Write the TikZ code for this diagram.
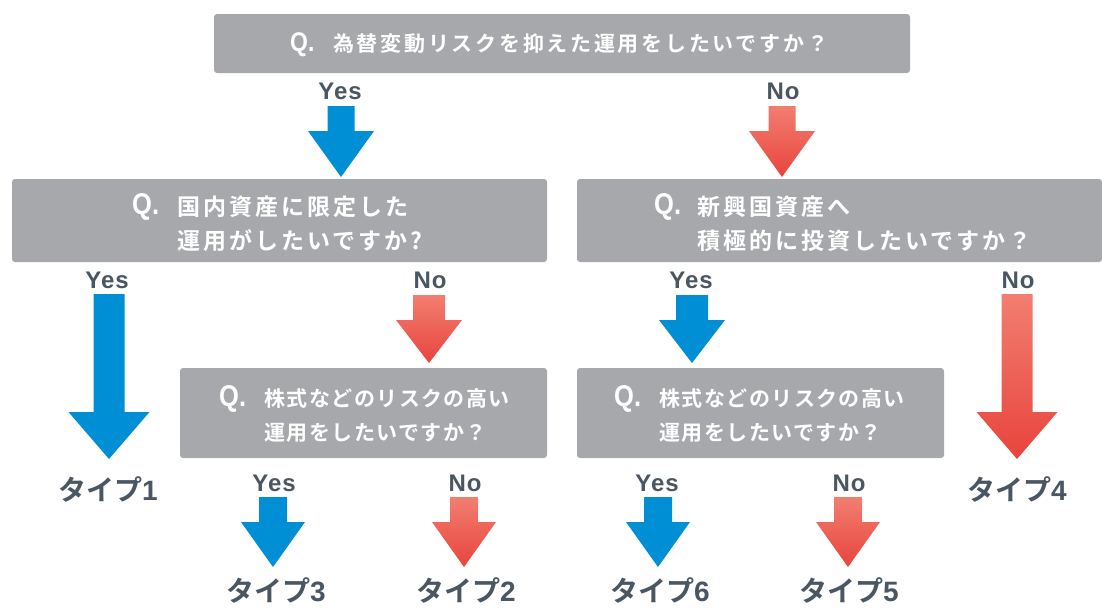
\documentclass[tikz,border=0pt]{standalone}
\usepackage{fontspec}
\newfontfamily\jpa{Noto Sans CJK JP}[BoldFont={Noto Sans CJK JP Bold}, LetterSpace=13]
\newfontfamily\jpc{Noto Sans CJK JP}[BoldFont={Noto Sans CJK JP Bold}, LetterSpace=7]
\newfontfamily\jpt{Noto Sans CJK JP}[BoldFont={Noto Sans CJK JP Bold}]
\newfontfamily\lat{Liberation Sans}
\newfontfamily\qfont{Liberation Sans}[FakeStretch=0.85]
\newfontfamily\ynfont{Liberation Sans}[LetterSpace=4]
\definecolor{boxgray}{HTML}{A7A8AB}
\definecolor{labcol}{HTML}{4A5661}
\definecolor{ablue}{HTML}{008FD4}
\definecolor{redtop}{HTML}{F27E70}
\definecolor{redbot}{HTML}{E8443D}
\newcommand\blockarrow[7]{%
  \path[#1] (#2-#6,#3) -- (#2+#6,#3) -- (#2+#6,#4) -- (#2+#7,#4) -- (#2,#5)
     -- (#2-#7,#4) -- (#2-#6,#4) -- cycle;}
\tikzset{
  qbox/.style={fill=boxgray, rounded corners=3pt, inner sep=0pt},
  qmark/.style={anchor=west, inner sep=0pt, text=white, font=\qfont\bfseries\fontsize{30}{30}\selectfont},
  qtxtA/.style={anchor=west, inner sep=0pt, text=white, font=\jpa\bfseries\fontsize{21}{21}\selectfont},
  qtxtB/.style={anchor=west, inner sep=0pt, text=white, font=\jpa\bfseries\fontsize{23}{23}\selectfont},
  qtxtC/.style={anchor=west, inner sep=0pt, text=white, font=\jpc\bfseries\fontsize{21}{21}\selectfont},
  yn/.style={inner sep=0pt, text=labcol, font=\ynfont\bfseries\fontsize{24}{24}\selectfont},
  typ/.style={inner sep=0pt, text=labcol, font=\jpt\bfseries\fontsize{28}{28}\selectfont},
  bluef/.style={fill=ablue},
  redf/.style={top color=redtop, bottom color=redbot},
}
\begin{document}
\begin{tikzpicture}[x=1pt,y=-1pt]
\useasboundingbox (0,0) rectangle (1102,608);
% boxes
\node[qbox, minimum width=696pt, minimum height=59pt] (qa) at (562,43.5) {};
\node[qbox, minimum width=535pt, minimum height=83pt] (qb) at (279.5,220.5) {};
\node[qbox, minimum width=525pt, minimum height=83pt] (qc) at (839.5,220.5) {};
\node[qbox, minimum width=367pt, minimum height=90pt] (qd) at (363.5,413) {};
\node[qbox, minimum width=367pt, minimum height=90pt] (qe) at (760.5,413) {};
% box texts
\node[qmark, font=\qfont\bfseries\fontsize{27}{27}\selectfont] (qaq) at (290,45) {Q.};
\node[qtxtA] (qat) at (333,44) {為替変動リスクを抑えた運用をしたいですか？};
\node[qmark] (qbq) at (132,207) {Q.};
\node[qtxtB] (qbt1) at (177,207) {国内資産に限定した};
\node[qtxtB] (qbt2) at (177,241) {運用がしたいですか?};
\node[qmark] (qcq) at (654,207) {Q.};
\node[qtxtB] (qct1) at (697,207) {新興国資産へ};
\node[qtxtB] (qct2) at (697,241) {積極的に投資したいですか？};
\node[qmark] (qdq) at (219,399) {Q.};
\node[qtxtC] (qdt1) at (264,399) {株式などのリスクの高い};
\node[qtxtC] (qdt2) at (264,433) {運用をしたいですか？};
\node[qmark] (qeq) at (614,399) {Q.};
\node[qtxtC] (qet1) at (659,399) {株式などのリスクの高い};
\node[qtxtC] (qet2) at (659,433) {運用をしたいですか？};
% yes/no labels
\node[yn] (y1) at (340,91) {Yes};
\node[yn] (n1) at (783,91) {No};
\node[yn] (y2) at (107,280) {Yes};
\node[yn] (n2) at (430,280) {No};
\node[yn] (y3) at (691,280) {Yes};
\node[yn] (n3) at (1018,280) {No};
\node[yn] (y4) at (274,483) {Yes};
\node[yn] (n4) at (465,483) {No};
\node[yn] (y5) at (657,483) {Yes};
\node[yn] (n5) at (849,483) {No};
% arrows
\blockarrow{bluef}{341}{106}{131}{177}{13.5}{33}
\blockarrow{redf}{782}{106}{131}{177}{13.5}{33}
\blockarrow{bluef}{109}{294}{412}{459}{15.5}{40.5}
\blockarrow{redf}{1017}{294}{412}{459}{15.5}{40.5}
\blockarrow{redf}{429}{295}{320}{363}{16}{33}
\blockarrow{bluef}{692}{295}{320}{363}{16}{33}
\blockarrow{bluef}{273}{497}{522}{567}{14}{32}
\blockarrow{redf}{464}{497}{522}{567}{14}{32}
\blockarrow{bluef}{658}{497}{522}{567}{14}{32}
\blockarrow{redf}{848}{497}{522}{567}{14}{32}
% results
\node[typ] (t1) at (108,489) {タイプ{\lat\bfseries 1}};
\node[typ] (t4) at (1017,489) {タイプ{\lat\bfseries 4}};
\node[typ] (t3) at (276,590) {タイプ{\lat\bfseries 3}};
\node[typ] (t2) at (466,590) {タイプ{\lat\bfseries 2}};
\node[typ] (t6) at (660,590) {タイプ{\lat\bfseries 6}};
\node[typ] (t5) at (849,590) {タイプ{\lat\bfseries 5}};
\end{tikzpicture}
\end{document}
